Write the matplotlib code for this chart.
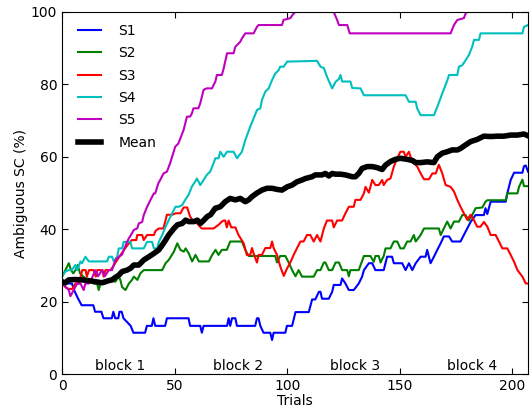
import matplotlib
matplotlib.use("Agg")
import matplotlib.pyplot as plt

# ---------------- data (vertices) ----------------
s1_x = [0, 4.4, 5.5, 7, 8.7, 13.9, 14.7, 17.5, 18.4, 22.1, 22.8, 23.6, 25, 25.5, 26.5, 27.3,
        30.5, 31.7, 36.9, 37.7, 39.9, 40.6, 41.4, 45.8, 46.6, 56.2, 56.9, 61.4, 62.1, 62.9,
        73.3, 74, 74.7, 75.5, 77, 77.7, 85.8, 86.6, 87.3, 88.1, 89.5, 92.5, 93.3, 94, 99.2,
        99.9, 102.2, 103.7, 109.6, 111.1, 112.5, 114.1, 114.8, 115.5, 118.5, 120, 120.7, 123.7,
        124.4, 125.9, 127.4, 129.6, 131.8, 133.3, 134.1, 136.3, 137.8, 139.2, 142.9, 144.4,
        146.6, 147.4, 151.1, 152.6, 154.1, 155.6, 157.1, 159.3, 161.5, 162.2, 163.7, 165.2,
        166.7, 168.2, 169.6, 171.9, 173.3, 177, 178.5, 180, 181.5, 183.7, 187.4, 188.1, 188.9,
        190.4, 197.1, 197.8, 199.3, 200.8, 204.5, 205.2, 206, 207]
s1_y = [25, 25, 23, 21, 19, 19, 17.2, 17.2, 15.4, 15.4, 17.2, 15.4, 15.4, 17.2, 17.2, 15.4,
        13.3, 11.4, 11.4, 13.3, 13.3, 15.4, 13.3, 13.3, 15.4, 15.4, 13.3, 13.3, 11.4, 13.3,
        13.3, 15.4, 13.3, 15.4, 15.4, 13.3, 13.3, 15.4, 15.4, 13.3, 11.4, 11.4, 9.4, 11.4, 11.4,
        13.3, 13.3, 17.1, 17.1, 20.6, 20.6, 22.7, 22.7, 20.8, 20.8, 22.7, 24.6, 24.6,
        26.4, 25, 23.2, 23.2, 25, 26.9, 28.7, 30.6, 30.6, 28.7, 28.7, 32.4,
        32.4, 30.6, 30.6, 28.7, 30.6, 28.7, 30.6, 32.4, 32.4, 34.3, 30.6, 32.4,
        34.3, 36.1, 38.0, 38.0, 36.6, 36.6, 38.4, 40.2, 42.0, 43.9, 43.9, 45.8, 44.2,
        47.6, 47.6, 49.9, 53.6, 55.6, 55.6, 57.4, 57.6, 55.9]

s2_x = [0, 1.5, 3, 4, 5, 6, 7, 8, 9.5, 11, 14, 15.6, 16.3, 17.1, 19.3, 20.8, 23.7, 25.2, 25.9,
        26.7, 28.2, 29.7, 31.1, 31.9, 33.5, 34.8, 36.3, 44.5, 46, 47.4, 49.7, 51.2, 52.6, 54.1,
        54.9, 56.3, 57.8, 59.3, 60.8, 65.2, 66.7, 68.2, 69.5, 71, 73.2, 74.7, 79.9, 81.4, 82.9,
        94.7, 95.5, 96.9, 99.2, 100.7, 102.2, 103.7, 105.1, 106.6, 111.8, 113.3, 114.8, 116.3,
        117, 118.5, 120, 121.5, 123, 124.4, 126.7, 127.4, 128.1, 131.8, 134.1, 137, 138.5,
        139.2, 140.7, 141.5, 142.9, 143.7, 145.9, 147.4, 148.9, 150.3, 151.8, 153.3, 154.8,
        156.3, 157.1, 159.3, 160.8, 167.4, 168.2, 169.6, 171.1, 172.6, 174.1, 176.3, 177.8,
        179.3, 180.7, 182.2, 183.7, 186.7, 188.1, 188.9, 197.1, 197.8, 202.3, 203, 204.5,
        205.2, 207]
s2_y = [26.9, 28.7, 30.6, 28.7, 27.8, 28.7, 30.1, 27.8, 26.9, 26, 25, 25, 23.2, 25, 25, 26,
        25.5, 26.9, 26, 24, 23.2, 25, 26, 26.9, 26, 27.8, 28.7, 28.7, 30.6, 31.5, 33.8, 36.1,
        34.3, 33.8, 34.7, 33.3, 31.1, 32.9, 31.1, 31.1, 32.9, 34.3, 32.9, 34.3, 34.3, 36.6,
        36.6, 34.3, 32.6, 32.6, 30.8, 32.6, 32.6, 30.8, 28.7, 27.0, 28.7, 26.9, 26.9, 28.7,
        28.7, 30.8, 30.8, 28.7, 28.7, 30.8, 30.8, 28.7, 28.7, 27.0, 28.7, 28.7, 32.6, 32.6,
        31.0, 32.6, 32.6, 30.8, 32.6, 34.7, 34.7, 36.6, 36.6, 34.7, 34.7, 36.6, 36.6, 38.4,
        36.6, 38.4, 40.2, 40.2, 38.4, 40.2, 42.1, 40.2, 42.1, 42.1, 43.9, 43.9, 42.4, 43.9,
        45.8, 46.0, 47.6, 48.0, 48.0, 49.9, 49.9, 51.7, 53.7, 51.9, 51.9]

s3_x = [0, 1.5, 3, 4.5, 6, 7.5, 9, 10.5, 11, 12, 14, 15, 15.6, 18, 18.5, 19.3, 21.5, 22.5,
        24.5, 26, 28, 29.7, 31, 33, 33.4, 35.6, 36.3, 37.8, 40.8, 41.5, 43, 45, 46, 46.6, 49,
        50.4, 52.6, 54, 55.6, 56.9, 58, 60, 62, 67.3, 69.5, 71, 71.8, 72.5, 73.2, 74, 75.2,
        77, 78.4, 80.7, 82.1, 83.6, 84.4, 85.1, 86.6, 87.3, 88.8, 90.3, 92.5, 93.3, 94, 95.5,
        97, 98.5, 100, 101.4, 102.9, 104.4, 105.9, 107.3, 108.8, 110.3, 111.8, 113.3, 114.8,
        116.3, 117.7, 120, 120.7, 122.2, 124.4, 125.9, 127.4, 129.6, 130.3, 132.6, 134.1,
        134.8, 136.3, 137.8, 139.2, 140.7, 142.2, 142.9, 144.4, 145.9, 147.4, 148.9, 150.3,
        151.8, 152.6, 154.1, 154.8, 156.3, 157.8, 159.3, 160.8, 163, 164.5, 166, 167.4, 168.9,
        170.4, 172.6, 174.1, 175.6, 177, 178.5, 180, 181.5, 182.9, 184.4, 185.9, 187.4, 188.9,
        190.4, 192.6, 194.1, 195.6, 197.8, 199.3, 200.8, 202.3, 204.5, 206, 207]
s3_y = [25, 24, 23.5, 23.5, 25, 25, 28.7, 28.7, 26.9, 28.7, 28.7, 26.9, 28.7, 28.7, 26.9,
        28.7, 28.7, 29.5, 31.5, 32.9, 34.7, 36.1, 37, 37, 38.4, 38.4, 37, 38.4, 38.4, 39.5,
        40.2, 40.2, 42.5, 44, 44, 44.4, 44.4, 46, 46, 43.5, 42.5, 41.6, 40.2, 40.2, 41.2, 42.1,
        42.4, 42.4, 40.5, 42.4, 40.5, 40.5, 38.4, 36.1, 32.9, 32.9, 34.8, 33.3, 30.8, 32.9,
        32.9, 34.8, 34.8, 36.6, 34.8, 32.9, 29.6, 27.1, 29.2, 30.8, 32.9, 34.8, 36.6, 36.6,
        38.4, 38.4, 36.6, 38.4, 36.6, 40.2, 42.4, 42.4, 40.5, 42.4, 42.4, 44.4, 46.2, 46.2,
        48.1, 48.1, 49.9, 51.7, 50.1, 53.6, 52.2, 52.2, 53.6, 52.2, 53.6, 54.0, 57.3, 59.6,
        61.4, 61.4, 60.0, 61.4, 60.0, 58.2, 57.3, 55.4, 53.8, 53.8, 55.4, 55.4, 57.8, 55.4,
        52.2, 51.7, 50.4, 48.1, 46.2, 44.4, 42.6, 44.0, 42.6, 40.7, 40.7, 42.0, 40.7,
        38.4, 38.4, 36.6, 34.7, 34.7, 32.9, 31.0, 28.7, 26.9, 25.0, 25.0]

s4_x = [0, 1.5, 3, 4.4, 5.9, 6.7, 8.2, 8.9, 10.4, 11.9, 20, 20.8, 22.2, 23, 24.5, 25.2, 26.7,
        27.4, 30.4, 31.1, 36.3, 37.8, 40, 40.8, 42.3, 43, 44.5, 46, 47.4, 48.9, 50.4, 51.9,
        53.4, 54.7, 56.2, 57.7, 59.2, 59.9, 60.6, 61.4, 62.9, 64.3, 65.8, 67.3, 68.1, 69.5,
        70.3, 71.8, 73.3, 76.2, 77.7, 79.9, 81.4, 83.6, 85.1, 86.6, 88.1, 88.8, 90.3, 91.8,
        93.3, 94.7, 96.2, 96.9, 98.5, 100, 113.3, 114.8, 116.3, 117.7, 120, 121.5, 123, 123.7,
        124.4, 128.1, 128.9, 132.6, 134.1, 152.6, 154.1, 157.1, 157.8, 159.3, 165.2, 166.7,
        168.9, 171.2, 171.9, 175.6, 176.3, 177.8, 179.3, 180.7, 182.2, 183, 185.2, 185.9,
        204.5, 205.2, 207]
s4_y = [26.9, 28.3, 28.7, 28.7, 30.1, 28.7, 31.1, 30.6, 32.4, 31.1, 31.1, 32.4, 32.4, 31.1,
        32.4, 34.7, 34.7, 36.5, 36.5, 34.7, 34.7, 36.5, 36.5, 34.7, 34.7, 36.5, 38.4, 40.7,
        42.5, 44.4, 46.2, 46.2, 46.7, 48.1, 49.5, 51.8, 53.2, 54.0, 53.2, 52.2, 53.6, 55.0,
        55.9, 58.2, 59.6, 59.6, 61.4, 60.0, 61.4, 61.4, 59.6, 61.4, 64.6, 68.3, 70.6, 72.9,
        73.4, 75.7, 78.0, 78.9, 81.2, 83.0, 83.9, 84.9, 84.9, 86.3, 86.5, 84.9, 84.5, 82.1,
        78.9, 80.7, 81.5, 82.6, 80.8, 80.8, 79.0, 78.9, 77.0, 77.0, 75.2, 75.2, 73.3, 71.5,
        71.5, 73.8, 77.5, 81.2, 82.6, 82.6, 84.9, 85.3, 86.7, 88.1, 90.4, 92.3, 92.3, 94.1,
        94.1, 95.9, 96.4]

s5_x = [0, 1.5, 3, 3.7, 5.2, 6.7, 8.2, 9.6, 10.4, 11.9, 13.3, 14.8, 16, 17.8, 19, 20.8, 22.2,
        23.7, 25.2, 26.7, 27.4, 28.9, 29.7, 31.1, 31.9, 33.4, 34.1, 35.6, 36.3, 37.8, 39.3,
        40.8, 41.4, 42.8, 43.6, 45.1, 46.6, 48, 50.3, 51.7, 54, 55.5, 56.9, 57.7, 58.4, 60.6,
        61.4, 62.9, 64.3, 66.6, 68.1, 68.8, 71, 71.8, 73.3, 76.2, 77, 79.2, 79.9, 81.4, 85.1,
        86.6, 87.3, 97.7, 98.4, 101.4, 102.9, 103.6, 120.7, 122.2, 123, 126.7, 127.8, 172.6,
        174.1, 175.6, 178.5, 179.3, 180, 207]
s5_y = [25.5, 24.1, 23.2, 21.5, 23.2, 25, 25, 23.2, 25, 25, 26.5, 28.7, 27, 28.7, 27, 28.7,
        28.7, 31.5, 32.4, 33, 34.2, 36.5, 37.5, 38.9, 39.8, 40.2, 41.6, 42, 43.9, 46.2, 48.1,
        49.9, 49.9, 52.7, 53.6, 55.4, 55.9, 58.2, 62.8, 63.7, 67.4, 71.1, 71.1, 72.0, 73.4,
        73.4, 74.8, 78.5, 78.9, 78.9, 80.8, 82.6, 82.6, 84.4, 88.6, 88.6, 90.4, 91.8, 92.7,
        94.1, 94.1, 95.9, 96.4, 96.4, 97.8, 98.3, 99.6, 100, 100, 97.8, 96.4, 96.4, 94.1,
        94.1, 96.4, 97.8, 98.3, 99.6, 100, 100]

mean_x = [0, 1.5, 3, 5.9, 8.9, 11.9, 14.8, 17.8, 20.8, 22.2, 23.7, 25.2, 26.7, 28.9, 30.4,
          31.9, 34.1, 36.3, 38.6, 40.8, 43, 44.5, 46, 47.4, 49.7, 51.2, 53.4, 54.9, 56.3, 58.6,
          60.1, 61.5, 63, 64.5, 66, 67.5, 68.1, 70.3, 72.5, 74.7, 77, 79.2, 81.4, 82.9, 84.4,
          86.6, 88.8, 91, 93.3, 95.5, 97.7, 100, 102.2, 104.4, 106.6, 108.1, 111.1, 112.5,
          115.5, 117, 118.5, 120, 121.5, 123.7, 125.9, 128.9, 130.3, 131.8, 133.3, 135.6, 137.8,
          140, 142.2, 143.7, 145.9, 148.1, 150.3, 153.3, 155.6, 157.1, 159.3, 162.2, 165.2,
          166.7, 168.9, 171.1, 173.3, 175.6, 177, 179.3, 181.5, 184.4, 187.4, 190.4, 193.3,
          196.3, 199.3, 202.3, 205.2, 207]
mean_y = [25.5, 25.2, 26, 26.1, 26, 25.8, 25.5, 25.2, 25.8, 26, 26.7, 27.3, 28.3, 28.7, 29.2,
          30.1, 30.1, 31.5, 32.4, 33.3, 34.3, 35.6, 37, 38.4, 40.2, 41.2, 41.6, 42.5, 42.1, 42.1,
          42.5, 41.6, 42.5, 43.5, 44, 45.3, 45.8, 46.2, 47.6, 48.5, 48.1, 48.5, 47.6, 48.1, 49,
          50, 50.8, 51.3, 51.3, 51, 50.8, 51.7, 52.2, 53.1, 53.6, 54, 54.5, 55,
          55, 55.4, 54.7, 55.4, 55.2, 55.2, 55, 54.5, 54.5, 55.4, 56.8, 57.3, 57.3,
          57, 56.5, 57.7, 58.7, 59.3, 59.6, 59.3, 59, 58.4, 58.4, 58.6, 58.4,
          60, 61, 61.4, 61.9, 61.9, 62.3, 63.3, 64.2, 64.8, 65.7, 65.6, 65.7,
          65.7, 66, 66, 66.3, 65.8]

series_labels = ["S1", "S2", "S3", "S4", "S5"]
series_colors = ["b", "g", "r", "c", "m"]
block_labels = ["block 1", "block 2", "block 3", "block 4"]
block_centers = [26, 78, 130, 182]
x_ticks = [0, 50, 100, 150, 200]
y_ticks = [0, 20, 40, 60, 80, 100]

# ---------------- figure ----------------
plt.rcParams['font.family'] = ['DejaVu Sans']
fig = plt.figure(figsize=(5.31, 4.08), dpi=100)
ax = fig.add_axes([0.1168, 0.0833, 0.8776, 0.8873])

xs = [s1_x, s2_x, s3_x, s4_x, s5_x]
ys = [s1_y, s2_y, s3_y, s4_y, s5_y]
for x, y, lab, col in zip(xs, ys, series_labels, series_colors):
    ax.plot(x, y, color=col, lw=1.5, label=lab)
ax.plot(mean_x, mean_y, color="k", lw=4, label="Mean")

for lab, c in zip(block_labels, block_centers):
    ax.text(c, 2.3, lab, ha="center", va="center", fontsize=10)

ax.set_xlim(0, 207)
ax.set_ylim(0, 100)
ax.set_xticks(x_ticks)
ax.set_yticks(y_ticks)
ax.tick_params(direction="in", top=True, right=True, length=4, labelsize=10)
ax.set_xlabel("Trials", fontsize=10, labelpad=1)
ax.set_ylabel("Ambiguous SC (%)", fontsize=10, labelpad=2)

ax.legend(loc="upper left", bbox_to_anchor=(0.034, 0.967), frameon=False, fontsize=10,
          handlelength=1.7, handletextpad=1.2, borderpad=0, borderaxespad=0,
          labelspacing=0.6)

fig.savefig("out.png", dpi=100)
